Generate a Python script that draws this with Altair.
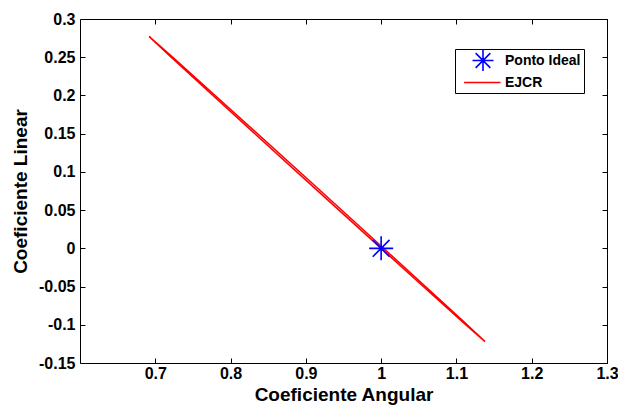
import altair as alt
import pandas as pd

# EJCR ellipse outline, traced along one side and back
ejcr_x = [0.692, 0.72, 0.77, 0.83, 0.915, 1.0, 1.06, 1.11, 1.138,
          1.11, 1.06, 1.0, 0.915, 0.83, 0.77, 0.72, 0.692]
ejcr_y = [0.2770, 0.2528, 0.2085, 0.1551, 0.0792, 0.0030, -0.0509, -0.0961, -0.1220,
          -0.0978, -0.0535, -0.0001, 0.0758, 0.1520, 0.2059, 0.2511, 0.2770]

ideal_x = [1.0]
ideal_y = [0.0]

series_names = ["Ponto Ideal", "EJCR"]
series_colors = ["#0000ff", "#ff0000"]

x_ticks = [0.7, 0.8, 0.9, 1.0, 1.1, 1.2, 1.3]
y_ticks = [-0.15, -0.1, -0.05, 0.0, 0.05, 0.1, 0.15, 0.2, 0.25, 0.3]
x_domain = [0.6, 1.3]
y_domain = [-0.15, 0.3]

W, H = 527, 344
FONT = "Liberation Sans"

star_path = "M-1.5,0L1.5,0M0,-1.5L0,1.5M-1.05,-1.05L1.05,1.05M-1.05,1.05L1.05,-1.05"
line_path = "M-2.7,0L2.5,0"

line_df = pd.DataFrame({"x": ejcr_x, "y": ejcr_y, "i": list(range(len(ejcr_x)))})
pt_df = pd.DataFrame({"x": ideal_x, "y": ideal_y, "s": ["Ponto Ideal"]})

xs = alt.Scale(domain=x_domain, nice=False, zero=False)
ys = alt.Scale(domain=y_domain, nice=False, zero=False)

lab = dict(labelFont=FONT, labelFontSize=16, labelFontWeight="bold", labelColor="black")

x_main = alt.Axis(values=x_ticks, labelExpr="'' + datum.value", ticks=False, tickSize=0,
                  domain=False, grid=False, labelPadding=2, labelFlush=False, labelOverlap=False,
                  title="Coeficiente Angular", titleFont=FONT, titleFontSize=19,
                  titleFontWeight="bold", titleColor="black", titleBaseline="alphabetic",
                  titleY=37, **lab)
y_main = alt.Axis(values=y_ticks, labelExpr="'' + datum.value", ticks=False, tickSize=0,
                  domain=False, grid=False, labelPadding=5, labelFlush=False, labelOverlap=False,
                  title="Coeficiente Linear", titleFont=FONT, titleFontSize=19,
                  titleFontWeight="bold", titleColor="black", titleBaseline="alphabetic",
                  titleX=-54, titleAngle=-90, **lab)

def tick_axis(orient, vals, off):
    return alt.Axis(orient=orient, values=vals, offset=off, labels=False, domain=False,
                    grid=False, ticks=True, tickSize=5, tickColor="black", tickWidth=1,
                    title=None)

line = alt.Chart(line_df).mark_line(stroke="#ff0000", strokeWidth=1.5).encode(
    x=alt.X("x:Q", scale=xs, axis=x_main),
    y=alt.Y("y:Q", scale=ys, axis=y_main),
    order="i:Q",
)

pts = alt.Chart(pt_df).mark_point(filled=False, strokeWidth=1.6, size=256, opacity=1).encode(
    x=alt.X("x:Q", scale=xs, axis=tick_axis("top", x_ticks, -H)),
    y=alt.Y("y:Q", scale=ys, axis=tick_axis("right", y_ticks, -W)),
    color=alt.Color("s:N", scale=alt.Scale(domain=series_names, range=series_colors),
                    legend=alt.Legend(title=None, orient="none", legendX=455 - 80, legendY=49 - 19,
                                      padding=3.5, strokeColor="black", fillColor="white",
                                      symbolSize=196, symbolOffset=16.5, labelOffset=14,
                                      rowPadding=0, labelFont=FONT, labelFontSize=14,
                                      labelFontWeight="bold", labelColor="black",
                                      symbolStrokeWidth=1.6, symbolOpacity=1, cornerRadius=0)),
    shape=alt.Shape("s:N", scale=alt.Scale(domain=series_names, range=[star_path, line_path]),
                    legend=None),
)

ticks2 = alt.Chart(pt_df).mark_point(opacity=0).encode(
    x=alt.X("x:Q", scale=xs, axis=tick_axis("bottom", x_ticks, -H)),
    y=alt.Y("y:Q", scale=ys, axis=tick_axis("left", y_ticks, -W)),
)

chart = alt.layer(line, ticks2, pts).resolve_axis(x="independent", y="independent").properties(
    width=W, height=H, autosize="none",
    padding={"left": 80, "top": 19, "right": 11, "bottom": 42},
    background="white",
).configure_view(stroke="black", strokeWidth=1)

chart.save("out.html", embed_options={"renderer": "svg", "actions": False})
